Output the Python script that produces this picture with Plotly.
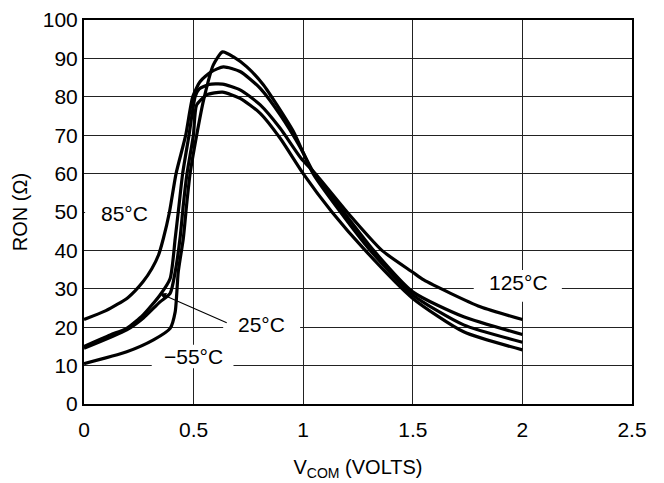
import plotly.graph_objects as go

# ---- data ----
x_85 = [0, 0.1, 0.2, 0.27, 0.31, 0.34, 0.362, 0.39, 0.42, 0.464, 0.496, 0.53, 0.58, 0.636, 0.712, 0.804, 0.895, 0.99, 1.05, 1.184, 1.321, 1.5, 1.732, 2.0]
y_85 = [22, 24.3, 27.7, 31.9, 35.3, 38.8, 43.1, 50, 60, 70, 80, 84, 86.5, 87.8, 86.6, 82.2, 75.3, 66.5, 60, 50, 40, 29.2, 22.7, 18.1]

x_125 = [0, 0.12, 0.195, 0.27, 0.347, 0.393, 0.416, 0.432, 0.45, 0.479, 0.507, 0.525, 0.57, 0.632, 0.712, 0.804, 0.895, 0.99, 1.055, 1.2, 1.359, 1.5, 1.55, 1.808, 2.0]
y_125 = [15, 18, 19.7, 23.2, 28.4, 32.7, 43.1, 51, 60, 70, 80, 82, 83.2, 83.3, 81.8, 77.9, 71.8, 64, 60, 50, 40, 34.3, 32.3, 25.3, 22]

x_25 = [0, 0.195, 0.271, 0.347, 0.393, 0.416, 0.438, 0.453, 0.47, 0.499, 0.514, 0.56, 0.632, 0.712, 0.804, 0.895, 1.0, 1.131, 1.283, 1.5, 1.732, 2.0]
y_25 = [14.5, 19.3, 22.4, 26.6, 28.8, 34.4, 43.1, 51.8, 60, 70, 77.9, 80.5, 81.2, 79.6, 75.7, 69.2, 60, 50, 40, 27.5, 18.8, 14.1]

x_m55 = [0, 0.195, 0.317, 0.393, 0.416, 0.43, 0.453, 0.468, 0.484, 0.514, 0.545, 0.59, 0.632, 0.682, 0.743, 0.819, 0.88, 0.956, 1.045, 1.17, 1.306, 1.5, 1.732, 2.0]
y_m55 = [10.5, 13.6, 16.7, 19.7, 24, 34.4, 43.1, 51.8, 60, 70, 79, 88.3, 91.7, 90.4, 87.8, 83.1, 77.9, 70.9, 60, 50, 40, 28.4, 20.6, 16.1]

x_ticks = [0, 0.5, 1, 1.5, 2, 2.5]
x_tick_text = ["0", "0.5", "1", "1.5", "2", "2.5"]
y_ticks = [0, 10, 20, 30, 40, 50, 60, 70, 80, 90, 100]

FONT = "Liberation Sans, Arial, Helvetica, sans-serif"
fig = go.Figure()
for xs, ys in [(x_85, y_85), (x_125, y_125), (x_25, y_25), (x_m55, y_m55)]:
    fig.add_trace(go.Scatter(x=xs, y=ys, mode="lines",
                             line=dict(color="black", width=3.2, shape="spline", smoothing=0.6),
                             showlegend=False, hoverinfo="skip"))

# white label boxes that break the grid lines
boxes = [(0.005, 0.38, 46.3, 53.5), (0.309, 0.682, 9.3, 15.4),
         (0.635, 0.986, 17.3, 24.2), (1.778, 2.18, 26.6, 34.9)]
for x0, x1, y0, y1 in boxes:
    fig.add_shape(type="rect", x0=x0, x1=x1, y0=y0, y1=y1, xref="x", yref="y",
                  fillcolor="white", line=dict(width=0), layer="between")

labels = [("85°C", 0.187, 49.7), ("−55°C", 0.5, 12.3), ("25°C", 0.811, 20.7), ("125°C", 1.983, 31.7)]
for t, x, y in labels:
    fig.add_annotation(text=t, x=x, y=y, xref="x", yref="y", showarrow=False,
                       font=dict(family=FONT, size=21, color="black"))

fig.add_annotation(text="", x=0.345, y=28.8, ax=0.658, ay=21, xref="x", yref="y",
                   axref="x", ayref="y", showarrow=True, arrowhead=2, arrowsize=1.2,
                   arrowwidth=1.1, arrowcolor="black")

fig.update_layout(
    width=664, height=483,
    margin=dict(l=76, r=40, t=12, b=87),
    paper_bgcolor="white", plot_bgcolor="white",
    font=dict(family=FONT, size=21, color="black"),
    xaxis=dict(range=[0, 2.5], tickvals=x_ticks, ticktext=x_tick_text,
               showgrid=True, gridcolor="#222", gridwidth=1.2,
               showline=True, linecolor="black", linewidth=2, mirror=True,
               ticks="", zeroline=False, ticklabelstandoff=6, automargin=False,
               ticklabeloverflow="allow",
               title=dict(text="V<sub>COM</sub> (VOLTS)", font=dict(size=20), standoff=20)),
    yaxis=dict(range=[0, 100], tickvals=y_ticks,
               showgrid=True, gridcolor="#222", gridwidth=1.2,
               showline=True, linecolor="black", linewidth=2, mirror=True,
               ticks="", zeroline=False, ticklabelstandoff=0, automargin=False,
               ticklabeloverflow="allow",
               title=dict(text="RON (Ω)", font=dict(size=20), standoff=10)),
)
fig.write_html("out.html")
